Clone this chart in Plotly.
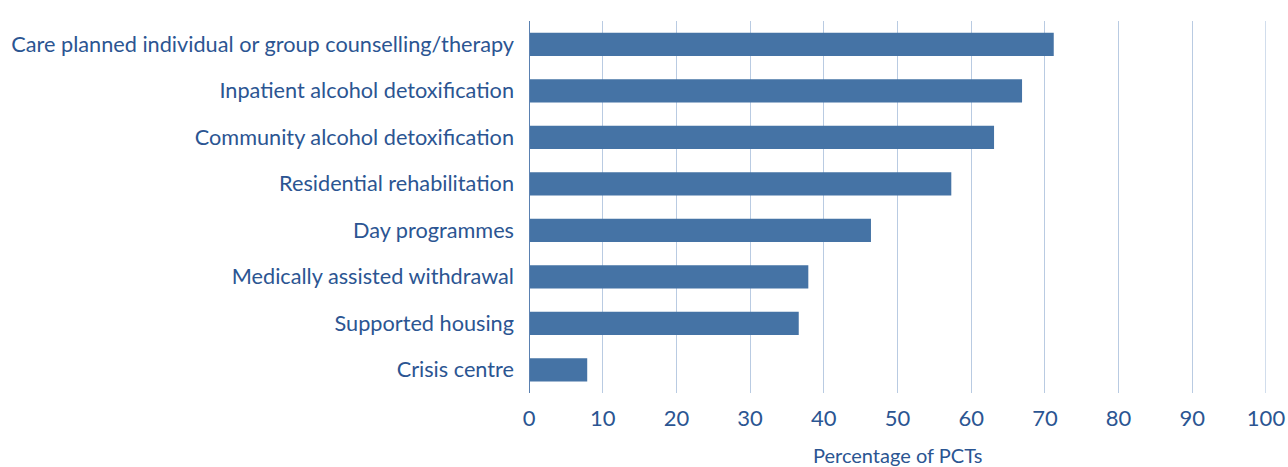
import plotly.graph_objects as go

categories = [
    "Care planned individual or group counselling/therapy",
    "Inpatient alcohol detoxification",
    "Community alcohol detoxification",
    "Residential rehabilitation",
    "Day programmes",
    "Medically assisted withdrawal",
    "Supported housing",
    "Crisis centre",
]
values = [71.2, 66.9, 63.1, 57.3, 46.4, 37.9, 36.6, 7.9]
x_ticks = [0, 10, 20, 30, 40, 50, 60, 70, 80, 90, 100]

text_color = "#2b5592"
bar_color = "#4573a5"
grid_color = "#b9cbe2"

fig = go.Figure(go.Bar(
    x=values, y=categories, orientation="h",
    marker=dict(color=bar_color, line=dict(width=0)),
))

fig.update_layout(
    width=1288, height=467,
    margin=dict(l=529, r=22, t=21, b=74),
    plot_bgcolor="white", paper_bgcolor="white",
    bargap=0.5,
    showlegend=False,
    font=dict(family="Lato", size=21.7, color=text_color),
    xaxis=dict(
        range=[0, 100], tickvals=x_ticks, ticktext=[str(t) for t in x_ticks],
        showgrid=True, gridcolor=grid_color, gridwidth=1.3,
        zeroline=False, showline=False, automargin=False,
        ticks="", ticklabelstandoff=10, ticklabeloverflow="allow",
        tickfont=dict(size=22, color=text_color),
    ),
    yaxis=dict(
        autorange="reversed", showgrid=False, zeroline=False,
        showline=False, ticks="", ticklabelstandoff=14, automargin=False,
        tickfont=dict(size=21.7, color=text_color),
    ),
    shapes=[
        dict(type="line", xref="x", yref="paper", x0=x_ticks[-1], x1=x_ticks[-1], y0=0, y1=1,
             line=dict(color=grid_color, width=1.3)),
        dict(type="line", xref="x", yref="paper", x0=0, x1=0, y0=0, y1=1,
             line=dict(color="#5a80b0", width=2)),
    ],
    annotations=[dict(text="Percentage of PCTs", xref="paper", yref="paper",
                      x=0.5, y=-0.167, xanchor="center", yanchor="middle",
                      showarrow=False, font=dict(size=20, color=text_color))],
)

fig.write_html(
    "out.html",
    config={"displayModeBar": False},
    post_script="document.body.style.margin='0';document.body.style.overflow='hidden';",
)
